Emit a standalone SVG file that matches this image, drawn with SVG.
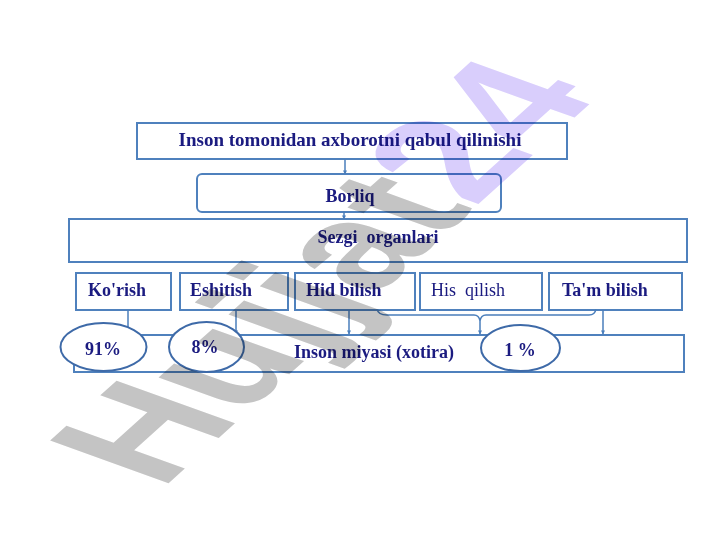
<svg xmlns="http://www.w3.org/2000/svg" width="720" height="540" viewBox="0 0 720 540">
  <style>
    .box { fill: #ffffff; stroke: #4f81bd; stroke-width: 2; }
    .ell { fill: #ffffff; stroke: #3e6aa8; stroke-width: 2; }
    .lbl { font-family: "Liberation Serif", "Times New Roman", serif; font-weight: bold; font-size: 18px; fill: #1b1b80; }
    .reg { font-weight: normal; }
    .mid { text-anchor: middle; }
    .con { fill: none; stroke: #4a7ebb; stroke-width: 1.5; }
    .wm { font-family: "Liberation Sans", Arial, sans-serif; font-weight: bold; font-size: 100px; mix-blend-mode: multiply; }
  </style>
  <defs>
    <marker id="arr" viewBox="0 0 10 10" refX="9" refY="5" markerWidth="4" markerHeight="4" orient="auto" markerUnits="userSpaceOnUse">
      <path d="M0,0 L10,5 L0,10 z" fill="#4a7ebb"/>
    </marker>
  </defs>
  <rect width="720" height="540" fill="#ffffff"/>

  <g id="n-title">
    <rect class="box" x="137" y="123" width="430" height="36"/>
    <text class="lbl mid" x="350" y="146" style="font-size:19px">Inson tomonidan axborotni qabul qilinishi</text>
  </g>
  <g id="n-borliq">
    <rect class="box" x="197" y="174" width="304" height="38" rx="5"/>
    <text class="lbl mid" x="350" y="202">Borliq</text>
  </g>
  <g id="n-sezgi">
    <rect class="box" x="69" y="219" width="618" height="43"/>
    <text class="lbl mid" x="378" y="243" xml:space="preserve">Sezgi  organlari</text>
  </g>
  <g id="n-korish">
    <rect class="box" x="76" y="273" width="95" height="37"/>
    <text class="lbl" x="88" y="296">Ko'rish</text>
  </g>
  <g id="n-eshitish">
    <rect class="box" x="180" y="273" width="108" height="37"/>
    <text class="lbl" x="190" y="296">Eshitish</text>
  </g>
  <g id="n-hid">
    <rect class="box" x="295" y="273" width="120" height="37"/>
    <text class="lbl" x="306" y="296">Hid bilish</text>
  </g>
  <g id="n-his">
    <rect class="box" x="420" y="273" width="122" height="37"/>
    <text class="lbl reg" x="431" y="296" xml:space="preserve">His  qilish</text>
  </g>
  <g id="n-tam">
    <rect class="box" x="549" y="273" width="133" height="37"/>
    <text class="lbl" x="562" y="296">Ta'm bilish</text>
  </g>
  <g id="n-miya">
    <rect class="box" x="74" y="335" width="610" height="37"/>
    <text class="lbl" x="294" y="358">Inson miyasi (xotira)</text>
  </g>

  <g id="connectors">
    <line class="con" x1="345" y1="159" x2="345" y2="174" marker-end="url(#arr)"/>
    <line class="con" x1="344" y1="212" x2="344" y2="219" marker-end="url(#arr)"/>
    <line class="con" x1="128" y1="310" x2="128" y2="334"/>
    <line class="con" x1="236" y1="310" x2="236" y2="334" marker-end="url(#arr)"/>
    <line class="con" x1="349" y1="310" x2="349" y2="334" marker-end="url(#arr)"/>
    <path class="con" d="M377,309 Q378,315 387,315 L474,315 Q479,315 480,321 Q481,315 486,315 L589,315 Q595,315 596,309"/>
    <line class="con" x1="480" y1="321" x2="480" y2="334" marker-end="url(#arr)"/>
    <line class="con" x1="603" y1="310" x2="603" y2="334" marker-end="url(#arr)"/>
  </g>

  <g id="n-p91">
    <ellipse class="ell" cx="103.5" cy="347" rx="43" ry="24"/>
    <text class="lbl mid" x="103" y="355">91%</text>
  </g>
  <g id="n-p8">
    <ellipse class="ell" cx="206.5" cy="347" rx="37.5" ry="25"/>
    <text class="lbl mid" x="205" y="353">8%</text>
  </g>
  <g id="n-p1">
    <ellipse class="ell" cx="520.5" cy="348" rx="39.5" ry="23"/>
    <text class="lbl mid" x="520" y="356">1 %</text>
  </g>

  <text class="wm" transform="matrix(1.129 -1.017 1.72 0.62 161 490)"><tspan fill="#c4c4c4">Hujjat</tspan><tspan fill="#d9cefc">24</tspan></text>
</svg>
